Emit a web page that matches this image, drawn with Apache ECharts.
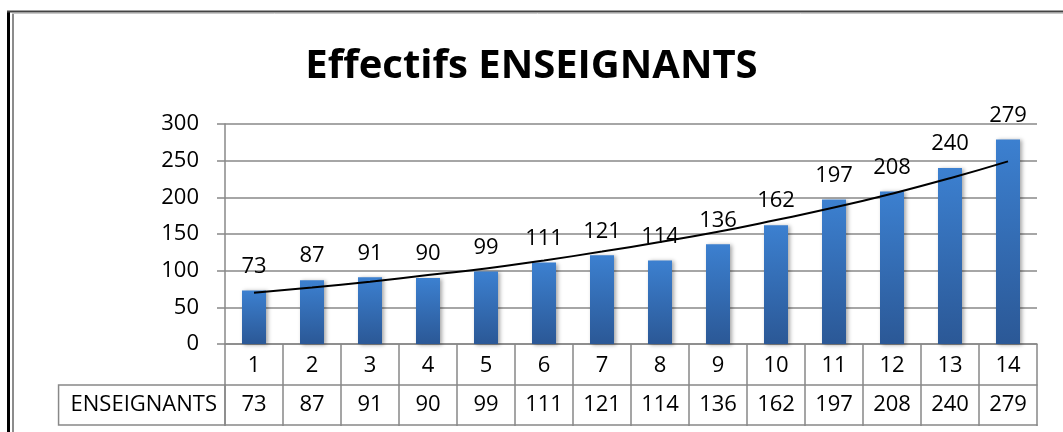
<!DOCTYPE html>
<html>
<head>
<meta charset="utf-8">
<script src="https://cdn.jsdelivr.net/npm/echarts@6/dist/echarts.min.js"></script>
<style>
  html, body { margin: 0; padding: 0; background: #fff; }
  #chart { width: 1063px; height: 432px; }
</style>
</head>
<body>
<div id="chart"></div>
<script>
const titleText = 'Effectifs ENSEIGNANTS';
const seriesName = 'ENSEIGNANTS';
const categories = ['1','2','3','4','5','6','7','8','9','10','11','12','13','14'];
const values = [73, 87, 91, 90, 99, 111, 121, 114, 136, 162, 197, 208, 240, 279];
// exponential trend line
const trend = [70, 77, 85, 94, 103, 114, 126, 139, 153, 169, 186, 205, 226, 249];
const yTicks = { min: 0, max: 300, interval: 50 };

const FONT = '"Open Sans", "Noto Sans", sans-serif';
const GRID_COLOR = '#888888';
const FS = 22;

const chart = echarts.init(document.getElementById('chart'), null, { renderer: 'canvas' });

chart.setOption({
  backgroundColor: '#ffffff',
  animation: false,
  title: {
    text: titleText,
    left: 'center',
    top: 42,
    textStyle: { fontFamily: FONT, fontWeight: 'bold', fontSize: 40, color: '#000' }
  },
  graphic: [
    { type: 'line', shape: { x1: 8.5, y1: 11, x2: 8.5, y2: 432 }, style: { stroke: '#000', lineWidth: 3 } },
    { type: 'line', shape: { x1: 7, y1: 11.5, x2: 1063, y2: 11.5 }, style: { stroke: '#444', lineWidth: 2 } },
    { type: 'line', shape: { x1: 13, y1: 13, x2: 13, y2: 432 }, style: { stroke: '#8c8c8c', lineWidth: 2 } },
    { type: 'line', shape: { x1: 12, y1: 13.5, x2: 1063, y2: 13.5 }, style: { stroke: '#c8c8c8', lineWidth: 1 } }
  ],
  grid: { left: 225, right: 26, top: 124, bottom: 88, containLabel: false },
  xAxis: [
    {
      type: 'category',
      data: categories,
      position: 'bottom',
      axisLine: { show: true, lineStyle: { color: GRID_COLOR, width: 1.5 } },
      axisTick: { show: true, interval: 0, length: 82, lineStyle: { color: GRID_COLOR, width: 1.5 } },
      axisLabel: { interval: 0, margin: 11, fontFamily: FONT, fontSize: FS, color: '#000' }
    },
    {
      type: 'category',
      data: categories,
      position: 'bottom',
      offset: 41,
      axisLine: { show: true, lineStyle: { color: GRID_COLOR, width: 1.5 } },
      axisTick: { show: false },
      axisLabel: {
        interval: 0, margin: 9, fontFamily: FONT, fontSize: FS, color: '#000',
        formatter: (v, i) => String(values[i])
      },
      name: seriesName,
      nameLocation: 'start',
      nameGap: 0,
      nameTextStyle: {
        fontFamily: FONT, fontSize: FS, color: '#000',
        align: 'right', verticalAlign: 'top',
        height: 40, lineHeight: 40,
        padding: [0, 8, 0, 12],
        borderColor: GRID_COLOR, borderWidth: 1.5
      }
    },
    {
      type: 'category',
      data: categories,
      position: 'bottom',
      offset: 81,
      axisLine: { show: true, lineStyle: { color: GRID_COLOR, width: 1.5 } },
      axisTick: { show: false },
      axisLabel: { show: false }
    }
  ],
  yAxis: {
    type: 'value',
    min: yTicks.min,
    max: yTicks.max,
    interval: yTicks.interval,
    axisLine: { show: true, lineStyle: { color: GRID_COLOR, width: 1.5 } },
    axisTick: { show: true, length: 8, lineStyle: { color: GRID_COLOR, width: 1.5 } },
    axisLabel: { margin: 26, fontFamily: FONT, fontSize: FS, color: '#000' },
    splitLine: { show: true, lineStyle: { color: GRID_COLOR, width: 1.5 } }
  },
  series: [
    {
      type: 'bar',
      name: seriesName,
      data: values,
      xAxisIndex: 0,
      barWidth: 24,
      itemStyle: {
        color: new echarts.graphic.LinearGradient(0, 0, 0, 1, [
          { offset: 0, color: '#3c80d0' },
          { offset: 1, color: '#2b5896' }
        ]),
        shadowBlur: 4,
        shadowColor: 'rgba(0,0,0,0.35)',
        shadowOffsetX: 2,
        shadowOffsetY: 1
      },
      label: {
        show: true, position: 'top', distance: 13,
        fontFamily: FONT, fontSize: FS, color: '#000'
      },
      z: 2
    },
    {
      type: 'line',
      name: 'trend',
      data: trend,
      xAxisIndex: 0,
      smooth: true,
      symbol: 'none',
      lineStyle: { color: '#000', width: 2 },
      silent: true,
      z: 3
    }
  ]
});
</script>
</body>
</html>
